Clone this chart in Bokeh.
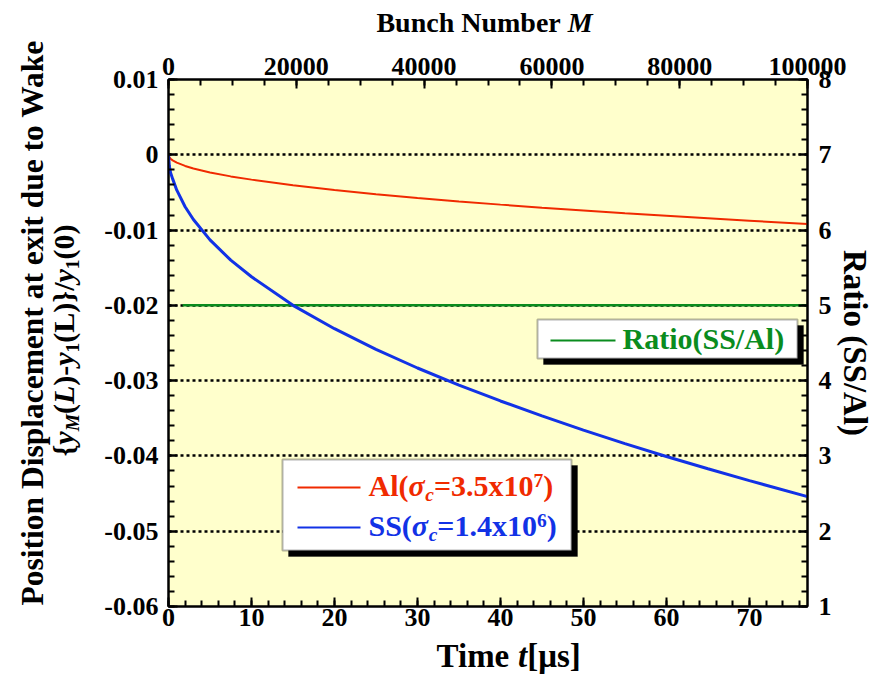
from math import pi
from bokeh.plotting import figure
from bokeh.layouts import column, row
from bokeh.models import (Range1d, LinearAxis, FixedTicker, CustomJSTickFormatter,
                          BasicTickFormatter, Label, BoxAnnotation)
from bokeh.embed import file_html
from bokeh.resources import INLINE

# ---------------- data ----------------
time_us = [0, 0.1, 0.25, 0.5, 1, 2, 3, 5, 7.5, 10, 15, 20, 25, 30, 35, 40,
           45, 50, 55, 60, 65, 70, 77]
al_disp = [0, -0.00033, -0.00052, -0.00074, -0.00105, -0.00148, -0.00182,
           -0.00234, -0.00287, -0.00330, -0.00405, -0.00468, -0.00523,
           -0.00573, -0.00619, -0.00662, -0.00702, -0.00740, -0.00777,
           -0.00811, -0.00844, -0.00876, -0.00920]
ss_disp = [0, -0.00150, -0.00240, -0.00320, -0.00470, -0.00690, -0.00860,
           -0.01130, -0.01400, -0.01620, -0.02000, -0.02310, -0.02585,
           -0.02832, -0.03059, -0.03270, -0.03469, -0.03657, -0.03836,
           -0.04007, -0.04170, -0.04328, -0.04540]
ratio_t = [1.7, 77]
ratio_val = [5.0, 5.0]

left_ticks = [-0.06, -0.05, -0.04, -0.03, -0.02, -0.01, 0.0, 0.01]
bottom_ticks = [0, 10, 20, 30, 40, 50, 60, 70]
top_ticks = [0, 20000, 40000, 60000, 80000, 100000]
right_ticks = [1, 2, 3, 4, 5, 6, 7, 8]

# ---------------- styles ----------------
FONT = "Liberation Serif"
BG = "#FFFFCC"
RED = "#F02A00"
BLUE = "#1232E6"
GREEN = "#0A8C1E"
BASE = 0.36      # alphabetic-baseline correction (fraction of font size)

TOTAL_W, TOTAL_H = 875, 678
TOP_H, BOT_H, LEFT_W = 40, 40, 85
FR_L, FR_R, FR_T, FR_B = 168, 808, 79, 606   # frame edges in page pixels

MAIN_W = TOTAL_W - LEFT_W
MAIN_H = TOTAL_H - TOP_H - BOT_H

p = figure(width=MAIN_W, height=MAIN_H, output_backend="svg", toolbar_location=None,
           x_range=Range1d(0, 77), y_range=Range1d(-0.06, 0.01),
           min_border_left=FR_L - LEFT_W, min_border_right=TOTAL_W - FR_R,
           min_border_top=FR_T - TOP_H, min_border_bottom=(TOP_H + MAIN_H) - FR_B)
p.background_fill_color = BG
p.border_fill_color = "white"
p.outline_line_color = "black"
p.outline_line_width = 2
p.extra_x_ranges = {"bunch": Range1d(0, 100000)}
p.extra_y_ranges = {"ratio": Range1d(1, 8)}

def style_axis(ax, standoff):
    ax.axis_line_color = "black"
    ax.axis_line_width = 2
    ax.major_tick_in = 9
    ax.major_tick_out = 0
    ax.minor_tick_in = 6
    ax.minor_tick_out = 0
    ax.major_tick_line_width = 2
    ax.minor_tick_line_width = 2
    ax.major_tick_line_color = "black"
    ax.minor_tick_line_color = "black"
    ax.major_label_text_font = FONT
    ax.major_label_text_font_style = "bold"
    ax.major_label_text_font_size = "26px"
    ax.major_label_text_color = "black"
    ax.major_label_standoff = standoff
    ax.axis_label = None

xa = p.xaxis[0]
xa.ticker = FixedTicker(ticks=bottom_ticks, minor_ticks=[v * 2 for v in range(0, 39)])
style_axis(xa, 2)

ya = p.yaxis[0]
ya.ticker = FixedTicker(ticks=left_ticks,
                        minor_ticks=[round(-0.06 + 0.002 * i, 4) for i in range(36)])
ya.formatter = CustomJSTickFormatter(code="return Math.abs(tick) < 1e-9 ? '0' : tick.toFixed(2);")
style_axis(ya, 10)

top = LinearAxis(x_range_name="bunch",
                 ticker=FixedTicker(ticks=top_ticks, minor_ticks=[5000 * i for i in range(21)]),
                 formatter=BasicTickFormatter(use_scientific=False))
style_axis(top, 5)
p.add_layout(top, "above")

right = LinearAxis(y_range_name="ratio",
                   ticker=FixedTicker(ticks=right_ticks,
                                      minor_ticks=[round(1 + 0.2 * i, 2) for i in range(36)]),
                   formatter=BasicTickFormatter(use_scientific=False))
style_axis(right, 11)
right.axis_label = "Ratio (SS/Al)"
right.axis_label_text_font = FONT
right.axis_label_text_font_style = "bold"
right.axis_label_text_font_size = "33px"
right.axis_label_text_color = "black"
right.axis_label_standoff = 2
p.add_layout(right, "right")

p.xgrid.grid_line_color = None
p.ygrid.grid_line_color = "black"
p.ygrid.grid_line_width = 2.5
p.ygrid.grid_line_dash = "3 3"

# ---------------- series ----------------
p.line(ratio_t, ratio_val, y_range_name="ratio", line_color=GREEN, line_width=2.5)
p.line(time_us, al_disp, line_color=RED, line_width=2)
p.line(time_us, ss_disp, line_color=BLUE, line_width=3)

# ---------------- rich text helper ----------------
W_B = {' ': .25, '(': .333, ')': .333, '{': .394, '}': .394, '-': .333, '/': .278,
       '.': .25, '=': .57, 'x': .5, 'A': .722, 'l': .278, 'S': .556, 'L': .667,
       'T': .667, 'i': .278, 'm': .833, 'e': .444, '[': .333, ']': .333, 'μ': .556,
       's': .389, 'B': .667, 'u': .556, 'n': .556, 'c': .444, 'h': .556, 'N': .722,
       'b': .556, 'r': .444, 'R': .722, 'a': .5, 't': .333, 'o': .5, 'P': .611,
       'D': .722, 'p': .556, 'd': .556, 'W': 1.0, 'k': .556}
W_BI = {'y': .444, 'M': .889, 'L': .611, 't': .278, 'c': .444, 'σ': .56}

def tw(s, style, size):
    tab = W_BI if "italic" in style else W_B
    return sum(tab.get(ch, .5) for ch in s) * size

def total_w(pieces):
    return sum(tw(t, s, z) for t, s, z, _ in pieces)

def rich(fig, pieces, x0, y0, color, vertical=False):
    """x0, y0: start of the baseline in the figure's frame screen units (y up)."""
    pos = 0.0
    for txt, style, size, dy in pieces:
        if vertical:
            x, y, ang = x0 - dy - BASE * size, y0 + pos, pi / 2
        else:
            x, y, ang = x0 + pos, y0 + dy + BASE * size, 0
        fig.add_layout(Label(x=x, y=y, x_units="screen", y_units="screen", text=txt,
                             angle=ang, text_font=FONT, text_font_style=style,
                             text_font_size=f"{size:.1f}px", text_color=color,
                             text_align="left", text_baseline="alphabetic"))
        pos += tw(txt, style, size)

def text_fig(w, h):
    f = figure(width=w, height=h, output_backend="svg", toolbar_location=None,
               x_range=Range1d(0, 1), y_range=Range1d(0, 1),
               x_axis_location=None, y_axis_location=None,
               min_border_left=0, min_border_right=0, min_border_top=0,
               min_border_bottom=0)
    f.outline_line_color = None
    f.background_fill_color = "white"
    f.border_fill_color = "white"
    f.xgrid.visible = False
    f.ygrid.visible = False
    return f

# ---------------- axis titles ----------------
# top / bottom text figures share the main frame's horizontal alignment (x origin = FR_L)
top_fig = text_fig(MAIN_W, TOP_H)
FT = 28
t_pieces = [("Bunch Number ", "bold", FT, 0), ("M", "bold italic", FT, 0)]
rich(top_fig, t_pieces, 484 - FR_L - total_w(t_pieces) / 2, TOP_H - 32, "black")

bot_fig = text_fig(MAIN_W, BOT_H)
FB = 33
b_pieces = [("Time ", "bold", FB, 0), ("t", "bold italic", FB, 0), ("[μs]", "bold", FB, 0)]
rich(bot_fig, b_pieces, 508 - FR_L - total_w(b_pieces) / 2, TOTAL_H - 667, "black")

left_fig = text_fig(LEFT_W, TOTAL_H)
def ly(img_y):
    return TOTAL_H - img_y
F1 = 31.5
l1 = [("Position Displacement at exit due to Wake", "bold", F1, 0)]
rich(left_fig, l1, 43, ly(605), "black", vertical=True)
F2 = 30
S = 0.65 * F2
l2 = [("{", "bold", F2, 0), ("y", "bold italic", F2, 0), ("M", "bold italic", S, -5),
      ("(", "bold", F2, 0), ("L", "bold italic", F2, 0), (")-", "bold", F2, 0),
      ("y", "bold italic", F2, 0), ("1", "bold", S, -5), ("(L)}/", "bold", F2, 0),
      ("y", "bold italic", F2, 0), ("1", "bold", S, -5), ("(0)", "bold", F2, 0)]
rich(left_fig, l2, 74, ly(456), "black", vertical=True)

# ---------------- legends (inside the frame) ----------------
def sx(img_x):
    return img_x - FR_L
def sy(img_y):
    return FR_B - img_y

def legend_box(l, t, r, b):
    p.add_layout(BoxAnnotation(left=sx(l) + 6, right=sx(r) + 6, top=sy(t) - 6,
                               bottom=sy(b) - 6, left_units="screen", right_units="screen",
                               top_units="screen", bottom_units="screen",
                               fill_color="black", fill_alpha=1, line_color="black"))
    p.add_layout(BoxAnnotation(left=sx(l), right=sx(r), top=sy(t), bottom=sy(b),
                               left_units="screen", right_units="screen",
                               top_units="screen", bottom_units="screen",
                               fill_color="white", fill_alpha=1, line_color="black",
                               line_width=2))

def legend_line(x1, x2, y, color, w):
    p.add_layout(BoxAnnotation(left=sx(x1), right=sx(x2), top=sy(y) + w / 2,
                               bottom=sy(y) - w / 2, left_units="screen",
                               right_units="screen", top_units="screen",
                               bottom_units="screen", fill_color=color, fill_alpha=1,
                               line_color=None))

legend_box(282, 459, 571, 550)
legend_line(297, 360, 487, RED, 2)
legend_line(297, 360, 527, BLUE, 2)
L = 30
LS = 0.65 * L
rich(p, [("Al(", "bold", L, 0), ("σ", "bold italic", L, 0), ("c", "bold italic", LS, -5),
         ("=3.5x10", "bold", L, 0), ("7", "bold", LS, 9), (")", "bold", L, 0)],
     sx(368), sy(496), RED)
rich(p, [("SS(", "bold", L, 0), ("σ", "bold italic", L, 0), ("c", "bold italic", LS, -5),
         ("=1.4x10", "bold", L, 0), ("6", "bold", LS, 9), (")", "bold", L, 0)],
     sx(368), sy(536), BLUE)

legend_box(537, 319, 797, 358)
legend_line(550, 615, 340, GREEN, 2)
rich(p, [("Ratio(SS/Al)", "bold", L, 0)], sx(622), sy(349), GREEN)

layout = row(left_fig, column(top_fig, p, bot_fig))
open("out.html", "w").write(file_html(layout, INLINE))
